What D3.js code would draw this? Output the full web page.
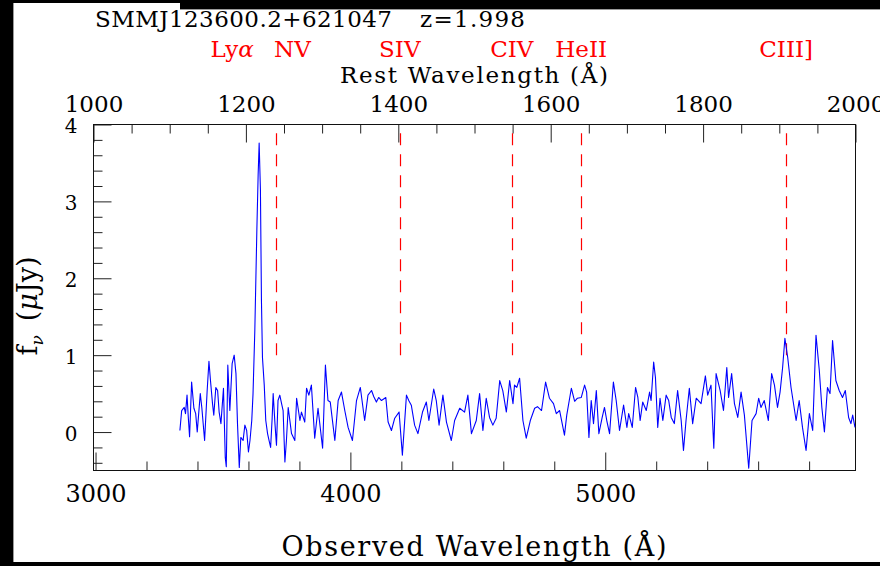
<!DOCTYPE html>
<html>
<head>
<meta charset="utf-8">
<script src="https://cdn.jsdelivr.net/npm/d3@7"></script>
<style>
  body { margin: 0; background: #fff; }
  svg { display: block; }
</style>
</head>
<body>
<svg id="chart" width="880" height="566"></svg>
<script>
// Observed-frame spectrum of SMMJ123600.2+621047 (wavelength in Å, flux density in µJy)
const wavelength = [
  3331, 3338, 3348, 3353, 3359, 3364, 3369, 3377, 3386, 3393, 3399, 3411, 3417, 3428, 3438, 3445,
  3451, 3459, 3464, 3472, 3479, 3485, 3492, 3502, 3509, 3513, 3519, 3527, 3536, 3544, 3551, 3557,
  3564, 3570, 3579, 3586, 3593, 3600, 3606, 3613, 3618, 3625, 3633, 3638, 3642, 3647, 3651, 3655,
  3662, 3668, 3675, 3681, 3687, 3693, 3697, 3704, 3710, 3716, 3723, 3730, 3736, 3743, 3749, 3756,
  3769, 3782, 3789, 3802, 3808, 3821, 3828, 3837, 3847, 3860, 3873, 3891, 3902, 3912, 3921, 3939,
  3952, 3965, 3978, 3991, 4008, 4024, 4039, 4056, 4069, 4083, 4092, 4102, 4111, 4122, 4139, 4148,
  4161, 4174, 4191, 4204, 4220, 4229, 4239, 4252, 4265, 4283, 4298, 4308, 4327, 4337, 4348, 4363,
  4377, 4396, 4409, 4429, 4448, 4461, 4475, 4494, 4507, 4520, 4533, 4546, 4559, 4572, 4586, 4598,
  4612, 4625, 4638, 4644, 4653, 4664, 4677, 4690, 4706, 4723, 4734, 4750, 4766, 4781, 4797, 4808,
  4821, 4840, 4849, 4867, 4880, 4891, 4906, 4919, 4927, 4936, 4945, 4954, 4965, 4975, 4988, 4997,
  5006, 5017, 5032, 5043, 5056, 5072, 5085, 5092, 5106, 5119, 5128, 5137, 5147, 5161, 5174, 5180,
  5190, 5197, 5206, 5215, 5226, 5239, 5249, 5259, 5271, 5284, 5298, 5307, 5317, 5330, 5343, 5357,
  5376, 5393, 5402, 5415, 5426, 5435, 5451, 5464, 5477, 5484, 5496, 5507, 5520, 5533, 5546, 5563,
  5576, 5592, 5602, 5611, 5624, 5640, 5653, 5664, 5676, 5686, 5696, 5705, 5716, 5729, 5749, 5761,
  5774, 5788, 5801, 5814, 5827, 5840, 5850, 5860, 5872, 5882, 5892, 5905, 5918, 5931, 5942, 5955,
  5964, 5971, 5980
];
const flux = [
  0.02, 0.28, 0.32, 0.24, 0.48, 0.19, -0.06, 0.65, 0.31, 0.24, 0.00, 0.50, 0.32, -0.11, 0.54, 0.92,
  0.67, 0.37, 0.22, 0.58, 0.54, 0.26, 0.11, 0.57, -0.33, -0.45, 0.87, 0.28, 0.89, 1.00, 0.76, 0.11,
  -0.46, -0.07, -0.11, 0.09, 0.02, -0.26, -0.11, 0.15, 0.50, 1.32, 2.63, 3.34, 3.76, 3.15, 1.71, 0.97,
  0.61, 0.15, -0.02, -0.11, -0.20, 0.18, 0.50, 0.11, -0.17, 0.41, 0.48, 0.37, 0.28, -0.39, -0.11, 0.32,
  -0.02, -0.11, 0.44, 0.15, 0.26, 0.13, 0.57, 0.48, 0.61, -0.08, 0.31, -0.21, 0.87, 0.41, 0.39, -0.11,
  0.41, 0.52, 0.28, 0.06, -0.11, 0.41, 0.58, 0.15, 0.48, 0.54, 0.46, 0.39, 0.45, 0.41, 0.45, 0.13,
  0.02, 0.18, 0.26, -0.30, 0.48, 0.41, 0.35, 0.09, -0.02, 0.26, 0.39, 0.15, 0.56, 0.41, 0.09, 0.48,
  0.13, -0.11, 0.15, 0.31, 0.26, 0.48, -0.02, 0.15, 0.50, 0.02, 0.44, 0.19, 0.09, 0.18, 0.67, 0.54,
  0.26, 0.67, 0.37, 0.61, 0.58, 0.70, 0.15, -0.08, 0.15, 0.31, 0.33, 0.28, 0.65, 0.44, 0.37, 0.24,
  0.28, -0.04, 0.22, 0.57, 0.40, 0.44, 0.45, 0.61, 0.52, -0.07, 0.41, 0.11, 0.54, -0.02, 0.19, 0.32,
  0.15, -0.02, 0.65, 0.41, 0.02, 0.35, 0.06, 0.24, 0.06, 0.58, 0.45, 0.15, 0.39, 0.28, 0.52, 0.41,
  0.91, 0.71, 0.06, 0.44, 0.15, 0.48, 0.41, 0.19, 0.11, 0.54, 0.15, -0.24, 0.15, 0.57, 0.11, 0.44,
  0.37, 0.73, 0.48, 0.61, -0.21, 0.76, 0.54, 0.28, 0.84, 0.45, 0.76, 0.37, 0.19, 0.52, 0.22, -0.47,
  0.15, 0.24, 0.44, 0.32, 0.41, 0.15, 0.76, 0.61, 0.32, 0.52, 0.84, 1.22, 0.97, 0.58, 0.15, 0.41,
  0.06, -0.24, 0.24, 0.02, 1.26, 0.80, 0.32, 0.00, 0.58, 0.50, 1.19, 0.67, 0.54, 0.45, 0.54, 0.19,
  0.11, 0.22, 0.06
];

// Emission-line identifications (rest wavelength, Å)
const labelNames = ["Ly\u03b1", "NV", "SIV", "CIV", "HeII", "CIII]"];
const labelRest  = [1216, 1240, 1402, 1549, 1640, 1909];
const markerRest = [1240, 1402, 1549, 1640, 1909];

// Axis ticks
const obsMajor  = [3000, 4000, 5000];
const obsMinor  = [3200, 3400, 3600, 3800, 4200, 4400, 4600, 4800, 5200, 5400, 5600, 5800];
const restMajor = [1000, 1200, 1400, 1600, 1800, 2000];
const restMinor = [1050, 1100, 1150, 1250, 1300, 1350, 1450, 1500, 1550, 1650, 1700, 1750, 1850, 1900, 1950];
const fluxMajor = [0, 1, 2, 3, 4];
const fluxMinor = [-0.4, -0.2, 0.2, 0.4, 0.6, 0.8, 1.2, 1.4, 1.6, 1.8, 2.2, 2.4, 2.6, 2.8, 3.2, 3.4, 3.6, 3.8];

const objectName = "SMMJ123600.2+621047";
const redshiftText = "z=1.998";

const SERIF = "'DejaVu Serif', 'Liberation Serif', serif";
const svg = d3.select("#chart");

// frame of the window
svg.append("rect").attr("x", 0).attr("y", 0).attr("width", 880).attr("height", 566).attr("fill", "#fff");
const frame = svg.append("g");
frame.append("rect").attr("x", 0).attr("y", 0).attr("width", 13).attr("height", 566).attr("fill", "#000");
frame.append("rect").attr("x", 0).attr("y", 0).attr("width", 880).attr("height", 3).attr("fill", "#000");
frame.append("rect").attr("x", 180).attr("y", 0).attr("width", 700).attr("height", 9).attr("fill", "#000");
frame.append("rect").attr("x", 0).attr("y", 562).attr("width", 880).attr("height", 4).attr("fill", "#000");
frame.append("line").attr("x1", 13.5).attr("x2", 13.5).attr("y1", 3).attr("y2", 562).attr("stroke", "#9a9a9a");
frame.append("line").attr("x1", 180).attr("x2", 880).attr("y1", 9.5).attr("y2", 9.5).attr("stroke", "#9a9a9a");

// plot box
const L = 93.5, R = 855.5, T = 124.5, B = 470.5;
const x = d3.scaleLinear().domain([2992, 5982]).range([L, R]);
const xRest = d3.scaleLinear().domain([1000, 2000]).range([L, R]);
const y = d3.scaleLinear().domain([-0.5, 4]).range([B, T]);

svg.append("clipPath").attr("id", "plotClip")
  .append("rect").attr("x", L).attr("y", T).attr("width", R - L).attr("height", B - T);

function styleAxis(g, size) {
  g.select(".domain").remove();
  g.selectAll(".tick line").attr("stroke", "#222").attr("stroke-width", 1);
  g.selectAll(".tick text").attr("font-family", SERIF).attr("font-size", size).attr("fill", "#000");
}

// bottom axis (observed wavelength)
svg.append("g").attr("transform", `translate(0,${B})`)
  .call(d3.axisBottom(x).tickValues(obsMajor).tickSize(-18).tickPadding(14).tickFormat(d3.format("d")))
  .call(g => styleAxis(g, 24));
svg.append("g").attr("transform", `translate(0,${B})`)
  .call(d3.axisBottom(x).tickValues(obsMinor).tickSize(-9).tickFormat(""))
  .call(g => styleAxis(g, 24));

// top axis (rest wavelength)
svg.append("g").attr("transform", `translate(0,${T})`)
  .call(d3.axisTop(xRest).tickValues(restMajor).tickSize(-18).tickPadding(13).tickFormat(d3.format("d")))
  .call(g => styleAxis(g, 23));
svg.append("g").attr("transform", `translate(0,${T})`)
  .call(d3.axisTop(xRest).tickValues(restMinor).tickSize(-9).tickFormat(""))
  .call(g => styleAxis(g, 23));

// left axis (flux density)
svg.append("g").attr("transform", `translate(${L},0)`)
  .call(d3.axisLeft(y).tickValues(fluxMajor).tickSize(-18).tickPadding(16).tickFormat(d3.format("d")))
  .call(g => styleAxis(g, 20))
  .call(g => g.selectAll(".tick text").attr("dy", "0.42em"));
svg.append("g").attr("transform", `translate(${L},0)`)
  .call(d3.axisLeft(y).tickValues(fluxMinor).tickSize(-9).tickFormat(""))
  .call(g => styleAxis(g, 20));

svg.append("rect").attr("x", L).attr("y", T).attr("width", R - L).attr("height", B - T)
  .attr("fill", "none").attr("stroke", "#111").attr("stroke-width", 1);

// line markers
svg.append("g").selectAll("line").data(markerRest).join("line")
  .attr("x1", d => Math.round(xRest(d)) + 0.5).attr("x2", d => Math.round(xRest(d)) + 0.5)
  .attr("y1", y(1.0)).attr("y2", y(3.92))
  .attr("stroke", "#ff0000").attr("stroke-width", 1.2).attr("stroke-dasharray", "12,9");

// spectrum
const pts = wavelength.map((w, i) => [w, flux[i]]);
svg.append("path").datum(pts)
  .attr("clip-path", "url(#plotClip)")
  .attr("fill", "none").attr("stroke", "#0000ff").attr("stroke-width", 1.1)
  .attr("stroke-linejoin", "round")
  .attr("d", d3.line().x(d => x(d[0])).y(d => y(d[1])));

// line names
const nudge = [-26, 16, 0, 0, 0, 0];
const lab = svg.append("g").attr("font-family", SERIF).attr("font-size", 23).attr("fill", "#ff0000")
  .attr("text-anchor", "middle");
labelNames.forEach((name, i) => {
  const t = lab.append("text").attr("x", xRest(labelRest[i]) + nudge[i]).attr("y", 57);
  if (name.endsWith("\u03b1")) {
    t.append("tspan").text(name.slice(0, -1));
    t.append("tspan").attr("font-style", "italic").text("\u03b1");
  } else {
    t.text(name);
  }
});

// titles
svg.append("text").attr("x", 95).attr("y", 27).attr("font-family", SERIF).attr("font-size", 23)
  .attr("textLength", 297).attr("lengthAdjust", "spacing").text(objectName);
svg.append("text").attr("x", 420).attr("y", 27).attr("font-family", SERIF).attr("font-size", 23)
  .attr("textLength", 105).attr("lengthAdjust", "spacing").text(redshiftText);

svg.append("text").attr("x", 474).attr("y", 83).attr("text-anchor", "middle")
  .attr("font-family", SERIF).attr("font-size", 23)
  .attr("textLength", 268).attr("lengthAdjust", "spacing").text("Rest Wavelength (\u00c5)");

svg.append("text").attr("x", 474).attr("y", 556).attr("text-anchor", "middle")
  .attr("font-family", SERIF).attr("font-size", 27)
  .attr("textLength", 385).attr("lengthAdjust", "spacing").text("Observed Wavelength (\u00c5)");

const yl = svg.append("text").attr("transform", "translate(37,306) rotate(-90)")
  .attr("text-anchor", "middle").attr("font-family", SERIF).attr("font-size", 27);
yl.append("tspan").text("f");
yl.append("tspan").attr("font-size", 17).attr("dy", 6).attr("font-style", "italic").text("\u03bd");
yl.append("tspan").attr("dy", -6).text("\u2009 (");
yl.append("tspan").attr("font-style", "italic").text("\u03bc");
yl.append("tspan").text("Jy)");
</script>
</body>
</html>
